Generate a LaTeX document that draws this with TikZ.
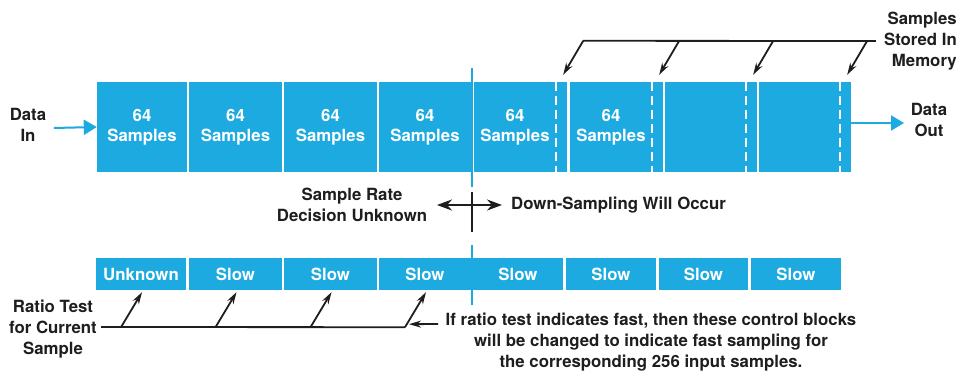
\documentclass[tikz,border=0pt]{standalone}
\usepackage{fontspec}
\setmainfont{TeX Gyre Heros}
\usepackage{xcolor}
\definecolor{blockcyan}{HTML}{1DAAE0}
\definecolor{inkblack}{HTML}{1E1E1E}
\usetikzlibrary{arrows.meta, positioning, calc}

\begin{document}
\begin{tikzpicture}[x=1pt, y=-1pt,
  every node/.style={font=\bfseries\fontsize{16.8}{21}\selectfont, text=inkblack},
  datablock/.style={rectangle, fill=blockcyan, minimum width=#1, minimum height=90pt,
                    inner sep=0pt, align=center, text=white},
  ctrlblock/.style={rectangle, fill=blockcyan, minimum width=#1, minimum height=32pt,
                    inner sep=0pt, text=white},
  note/.style={align=center, inner sep=0pt},
  flow/.style={-{Triangle[length=13pt, width=15pt]}, blockcyan, line width=2pt},
  pointer/.style={-{Stealth[length=12pt, width=7pt]}, inkblack, line width=1.8pt},
  lead/.style={inkblack, line width=1.8pt},
  divider/.style={blockcyan, line width=2pt},
  storeline/.style={white, line width=2pt, dash pattern=on 9pt off 5pt}
]
  \fill[white] (0,0) rectangle (956,372);
  \useasboundingbox (0,0) rectangle (956,372);

  % data blocks
  \foreach \i/\cx/\w in {1/142/90, 2/235.5/93, 3/330.5/93, 4/425/92,
                         5/520.5/93, 6/616.5/93, 7/711/92, 8/805/92}
    \node[datablock=\w pt] (d\i) at (\cx,127) {};
  \foreach \i in {1,...,4}
    \node[note, text=white, font=\bfseries\fontsize{16.8}{20}\selectfont] at (d\i) {64\\Samples};
  \node[note, text=white, font=\bfseries\fontsize{16.8}{20}\selectfont]
    at ($(d5.center)+(-5.5,0)$) {64\\Samples};
  \node[note, text=white, font=\bfseries\fontsize{16.8}{20}\selectfont]
    at ($(d6.center)+(-5.5,0)$) {64\\Samples};
  \foreach \i in {5,...,8}
    \draw[storeline] ($(d\i.north east)+(-11,0)$) -- ($(d\i.south east)+(-11,0)$);

  % control blocks
  \foreach \i/\cx/\w/\txt in {1/141/90/Unknown, 2/235.5/93/Slow, 3/330.5/93/Slow,
                              4/425/92/Slow, 5/518/90/Slow, 6/611/90/Slow,
                              7/703.5/89/Slow, 8/796/90/Slow}
    \node[ctrlblock=\w pt] (c\i) at (\cx,274) {\txt};

  \node[note] (datain) at (28,125) {Data\\In};
  \node[note] (dataout) at (929,120) {Data\\Out};
  \draw[flow] ($(d1.west)+(-43,1)$) -- (d1.west);
  \coordinate (outtip) at (904,123);
  \draw[flow] (d8.east |- outtip) -- (outtip);

  % decision boundary
  \draw[divider] (472,68) -- (472,187);
  \draw[divider] (472,245) -- (472,305);
  \draw[inkblack, line width=2pt] (472,192) -- (472,232);
  \draw[{Stealth[length=15pt, width=11pt]}-{Stealth[length=15pt, width=11pt]},
        inkblack, line width=2pt] (437,205) -- (502,205);
  \node[note] (unknown) at (352,205) {Sample Rate\\Decision Unknown};
  \node[note, anchor=west] (occur) at (511,205) {Down-Sampling Will Occur};

  % memory pointers
  \node[note, align=right, anchor=east] (memory) at (957,41) {Samples\\Stored In\\Memory};
  \foreach \i in {5,...,8}
    \coordinate (m\i) at ($(d\i.north east)+(-4,-7)$);
  \draw[lead] ($(m5)+(20,-34)$) -- ($(memory.west)+(-8,0)$);
  \foreach \i in {5,...,8}
    \draw[pointer] ($(m\i)+(20,-34)$) -- (m\i);

  % ratio test pointers
  \node[note] (ratio) at (53,329) {Ratio Test\\for Current\\Sample};
  \foreach \i in {1,...,4}
    \coordinate (r\i) at ($(c\i.south)+(1,2)$);
  \draw[lead] ($(ratio.east)+(4,-2)$) -- ($(r4)+(-21,35)$);
  \foreach \i in {1,...,4}
    \draw[pointer] ($(r\i)+(-21,35)$) -- (r\i);

  \node[note] (change) at (651,342)
    {If ratio test indicates fast, then these control blocks\\
     will be changed to indicate fast sampling for\\
     the corresponding 256 input samples.};
  \coordinate (ifstart) at (438,324);
  \draw[pointer] (ifstart) -- ($(r4)+(-17,32)$);
\end{tikzpicture}
\end{document}
